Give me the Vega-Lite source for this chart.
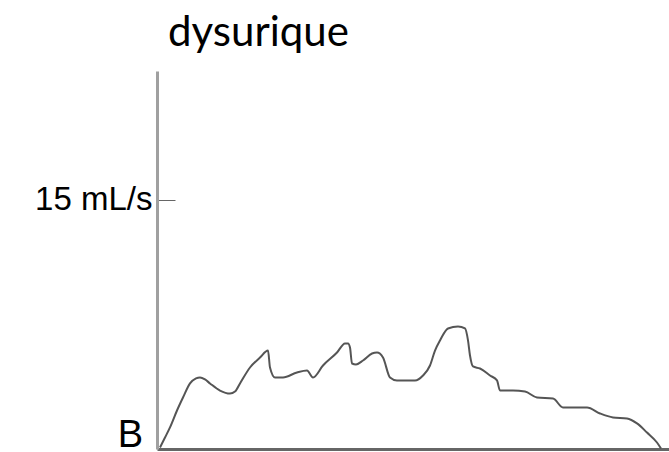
{
  "$schema": "https://vega.github.io/schema/vega-lite/v6.json",
  "width": 512,
  "height": 378,
  "autosize": "none",
  "padding": {"left": 157, "top": 71, "right": 0, "bottom": 3},
  "background": "white",
  "title": {
    "text": "dysurique",
    "font": "Lato",
    "fontSize": 42,
    "fontWeight": "normal",
    "color": "#000000",
    "anchor": "start",
    "frame": "group",
    "baseline": "alphabetic",
    "offset": 25,
    "dx": 11,
    "dy": 42
  },
  "config": {
    "view": {"stroke": null},
    "axis": {"grid": false}
  },
  "datasets": {
    "flow": [
      {"t": 0.3, "q": 0.09}, {"t": 0.8, "q": 0.69}, {"t": 1.3, "q": 1.3}, {"t": 2.0, "q": 2.32},
      {"t": 2.6, "q": 3.1}, {"t": 3.3, "q": 3.95}, {"t": 3.9, "q": 4.25}, {"t": 4.3, "q": 4.31},
      {"t": 4.8, "q": 4.19}, {"t": 5.3, "q": 3.95}, {"t": 6.3, "q": 3.52}, {"t": 7.3, "q": 3.34},
      {"t": 7.8, "q": 3.46}, {"t": 8.3, "q": 3.95}, {"t": 9.3, "q": 4.91}, {"t": 10.3, "q": 5.51},
      {"t": 11.1, "q": 5.93}, {"t": 11.3, "q": 4.91}, {"t": 11.8, "q": 4.31}, {"t": 12.6, "q": 4.31},
      {"t": 14.0, "q": 4.61}, {"t": 15.0, "q": 4.73}, {"t": 15.6, "q": 4.31}, {"t": 16.6, "q": 5.03},
      {"t": 18.0, "q": 5.81}, {"t": 18.8, "q": 6.36}, {"t": 19.1, "q": 6.36}, {"t": 19.3, "q": 6.11},
      {"t": 19.5, "q": 5.15}, {"t": 19.9, "q": 5.09}, {"t": 20.6, "q": 5.33}, {"t": 21.5, "q": 5.75},
      {"t": 22.0, "q": 5.81}, {"t": 22.6, "q": 5.51}, {"t": 23.3, "q": 4.31}, {"t": 24.0, "q": 4.13},
      {"t": 25.3, "q": 4.13}, {"t": 25.8, "q": 4.13}, {"t": 26.6, "q": 4.43}, {"t": 27.3, "q": 5.03},
      {"t": 27.8, "q": 5.93}, {"t": 28.3, "q": 6.54}, {"t": 29.1, "q": 7.26}, {"t": 30.1, "q": 7.38},
      {"t": 30.8, "q": 7.26}, {"t": 31.1, "q": 6.54}, {"t": 31.3, "q": 5.63}, {"t": 31.6, "q": 4.97},
      {"t": 32.3, "q": 4.85}, {"t": 33.3, "q": 4.43}, {"t": 34.0, "q": 4.13}, {"t": 34.3, "q": 3.52},
      {"t": 35.6, "q": 3.52}, {"t": 36.8, "q": 3.46}, {"t": 38.0, "q": 3.1}, {"t": 39.6, "q": 3.04},
      {"t": 40.6, "q": 2.5}, {"t": 43.0, "q": 2.5}, {"t": 44.3, "q": 2.14}, {"t": 45.6, "q": 1.9},
      {"t": 47.0, "q": 1.84}, {"t": 48.0, "q": 1.54}, {"t": 49.0, "q": 0.99}, {"t": 50.0, "q": 0.39},
      {"t": 50.4, "q": 0.03}
    ],
    "corner": [{"t": 0, "q": 0, "label": "B"}]
  },
  "layer": [
    {
      "data": {"name": "flow"},
      "mark": {"type": "line", "color": "#555555", "strokeWidth": 2, "interpolate": "monotone"},
      "encoding": {
        "x": {
          "field": "t", "type": "quantitative",
          "scale": {"domain": [0, 51.2], "nice": false, "zero": false},
          "axis": {
            "title": null, "labels": false, "ticks": false,
            "domainColor": "#666666", "domainWidth": 3
          }
        },
        "y": {
          "field": "q", "type": "quantitative",
          "scale": {"domain": [0, 22.77], "nice": false},
          "axis": {
            "title": null,
            "values": [15],
            "labelExpr": "'15 mL/s'",
            "labelFont": "Liberation Sans",
            "labelFontSize": 33,
            "labelColor": "#000000",
            "labelPadding": 23,
            "tickSize": -18,
            "tickColor": "#666666",
            "tickWidth": 1,
            "domainColor": "#a0a0a0",
            "domainWidth": 3
          }
        }
      }
    },
    {
      "data": {"name": "corner"},
      "mark": {
        "type": "text",
        "font": "Liberation Sans",
        "fontSize": 38,
        "align": "right",
        "baseline": "alphabetic",
        "dx": -14,
        "dy": -2,
        "color": "#000000"
      },
      "encoding": {
        "x": {"field": "t", "type": "quantitative"},
        "y": {"field": "q", "type": "quantitative"},
        "text": {"field": "label"}
      }
    }
  ]
}
